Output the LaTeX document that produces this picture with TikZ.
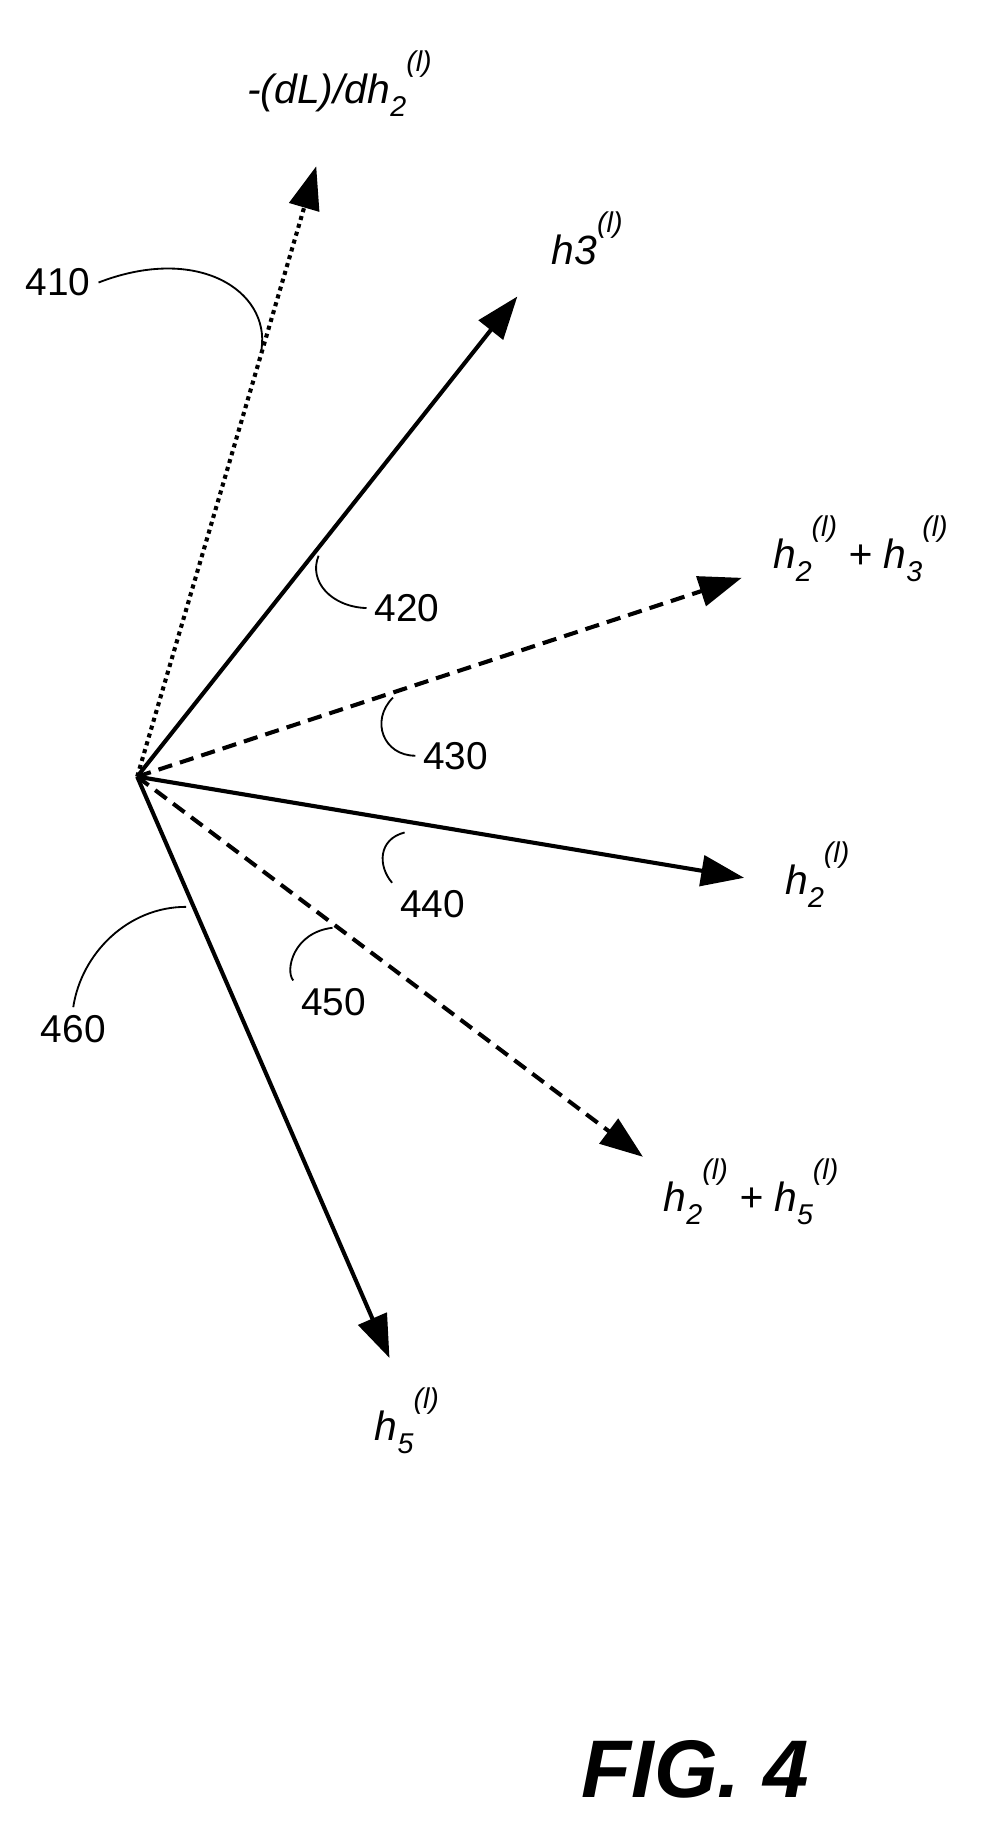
\documentclass[tikz,border=0pt]{standalone}
\usepackage{fontspec}
\setmainfont{Liberation Sans}
\usetikzlibrary{arrows.meta}
\newcommand{\scr}[1]{{\fontsize{14}{16}\selectfont #1}}
\newcommand{\hvec}[1]{\textit{h}\raisebox{-0.6ex}{\scr{#1}}\raisebox{1.5ex}{\scr{(\textit{l})}}}
\begin{document}
\begin{tikzpicture}[x=0.02cm,y=-0.02cm, very thick,
                    vec/.style={line width=2pt,-{Triangle[length=21pt,width=15pt]}},
                    dsh/.style={dash pattern=on 7pt off 4pt},
                    lbl/.style={font=\fontsize{20}{22}\selectfont\itshape},
                    num/.style={font=\fontsize{19}{21}\selectfont},
                    lead/.style={line width=0.9pt}]

          \useasboundingbox (0,0) rectangle (850,1568);

          \node (o) at (118,668) [inner sep=0pt]{};

          \coordinate (t1) at (272,143);
          \coordinate (t2) at (445,255);
          \coordinate (t3) at (638,497);
          \coordinate (t4) at (640,755);
          \coordinate (t5) at (553,995);
          \coordinate (t6) at (335,1168);

          \draw[vec,dotted] (o.center) -- (t1);
          \draw[vec] (o.center) -- (t2);
          \draw[vec,dsh] (o.center) -- (t3);
          \draw[vec] (o.center) -- (t4);
          \draw[vec,dsh] (o.center) -- (t5);
          \draw[vec] (o.center) -- (t6);

          \node[lbl] (g)  at (292,72)  {-(dL)/d\hvec{2}};
          \node[lbl] (h3) at (505,205) {h3\raisebox{1.5ex}{\scr{(\textit{l})}}};
          \node[lbl] (s23) at (740,472) {\hvec{2} + \hvec{3}};
          \node[lbl] (h2) at (703,752) {\hvec{2}};
          \node[lbl] (s25) at (646,1025) {\hvec{2} + \hvec{5}};
          \node[lbl] (h5) at (350,1222) {\hvec{5}};

          \node[num] (n410) at (50,243) {410};
          \node[num] (n420) at (350,523) {420};
          \node[num] (n430) at (392,650) {430};
          \node[num] (n440) at (372,778) {440};
          \node[num] (n450) at (287,862) {450};
          \node[num] (n460) at (63,885) {460};

          \draw[lead] (n410.east) .. controls (170,210) and (232,250) .. (225,300);
          \draw[lead] (n420.west) .. controls (285,522) and (265,500) .. (274,478);
          \draw[lead] (n430.west) .. controls (330,650) and (318,620) .. (338,600);
          \draw[lead] (n440.north west) .. controls (325,745) and (325,722) .. (348,716);
          \draw[lead] (n450.north west) .. controls (245,835) and (252,802) .. (286,798);
          \draw[lead] (n460.north) .. controls (70,820) and (110,780) .. (160,780);

          \node[font=\fontsize{40}{44}\selectfont\bfseries\itshape] (fig) at (598,1522) {FIG. 4};

        \end{tikzpicture}
\end{document}
